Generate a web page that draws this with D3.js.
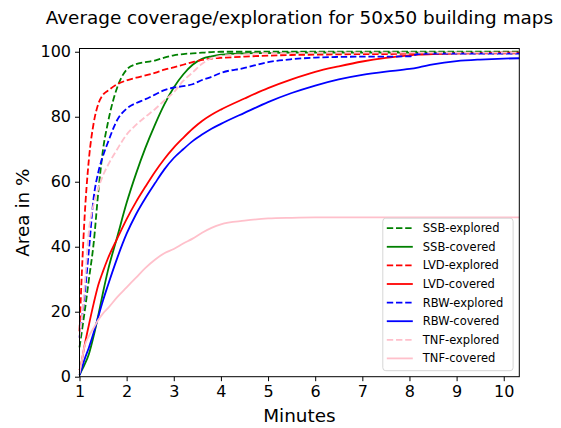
<!DOCTYPE html>
<html>
<head>
<meta charset="utf-8">
<script src="https://cdn.jsdelivr.net/npm/d3@7"></script>
<style>
  body { margin: 0; background: #fff; }
  text { font-family: "DejaVu Sans", sans-serif; fill: #000; }
</style>
</head>
<body>
<div class="canva"></div>
<script>
// minutes sampled along the x axis
const minutes = [1, 1.05, 1.1, 1.2, 1.3, 1.4, 1.5, 1.6, 1.8, 2, 2.2, 2.4, 2.6, 2.8, 3, 3.2, 3.4, 3.6, 3.8, 4,
                 4.5, 5, 5.5, 6, 6.5, 7, 7.5, 8, 8.2, 8.5, 9, 9.5, 10, 10.33];

// area in % for each run
const ssbExplored = [9, 14, 19, 30, 41, 57, 70, 78, 89, 94.5, 96.2, 96.8, 97.3, 98.2, 98.9, 99.3, 99.5, 99.7, 99.9, 100,
                     100, 100, 100, 100, 100, 100, 100, 100, 100, 100, 100, 100, 100, 100];
const ssbCovered = [0.5, 2, 3.5, 7, 12.5, 19, 26, 32.5, 43, 53.5, 62.5, 70.5, 77.5, 83.8, 89, 93, 96, 97.8, 98.6, 99.1,
                    99.5, 99.6, 99.7, 99.7, 99.7, 99.7, 99.7, 99.7, 99.7, 99.7, 99.7, 99.7, 99.7, 99.7];
const lvdExplored = [14, 32, 47, 67, 78, 84, 86.8, 88, 90, 91.2, 92, 92.7, 93.5, 94.5, 95.2, 96, 96.8, 97.5, 97.9, 98.1,
                     98.5, 98.8, 99, 99.1, 99.2, 99.3, 99.3, 99.4, 99.4, 99.4, 99.5, 99.5, 99.5, 99.5];
const lvdCovered = [2, 5, 9, 16, 22.5, 28.3, 32.5, 36.3, 42.5, 48.5, 53.8, 58.5, 63, 67, 70.5, 73.5, 76.3, 78.7, 80.6, 82.2,
                    85.6, 88.8, 91.5, 93.8, 95.5, 97, 98.1, 98.9, 99.1, 99.3, 99.5, 99.6, 99.7, 99.7];
const rbwExplored = [12, 18, 24, 39, 55, 63, 68, 72, 79, 82.5, 84.2, 85.4, 86.8, 88.2, 89, 89.4, 90, 91.3, 92.3, 93.5,
                     95, 96.8, 97.7, 98.2, 98.4, 98.5, 98.5, 98.6, 99.3, 99.4, 99.4, 99.4, 99.4, 99.4];
const rbwCovered = [0.5, 2.5, 5, 9, 13.5, 18.5, 23.5, 28, 36.5, 44, 50, 55, 59.5, 63.8, 67.3, 70, 72.5, 74.5, 76.3, 77.8,
                    81.2, 84.5, 87.3, 89.6, 91.5, 92.9, 93.9, 94.7, 95.2, 96.1, 97.1, 97.6, 97.9, 98];
const tnfExplored = [12, 18, 26, 45, 53, 58, 62, 65, 70, 74.5, 77.5, 80, 82.3, 85, 87.5, 91, 93.6, 96.3, 98, 98.7,
                     99.2, 99.6, 99.6, 99.7, 99.7, 99.7, 99.7, 99.7, 99.7, 99.7, 99.7, 99.7, 99.7, 99.7];
const tnfCovered = [1, 5, 9, 12.5, 15, 17.5, 19.5, 21, 24.5, 27.5, 30.5, 33.5, 36, 38, 39.3, 41, 42.5, 44.3, 45.8, 46.9,
                    48, 48.7, 48.9, 49, 49, 49, 49, 49, 49, 49, 49, 49, 49, 49];

const seriesNames = ["SSB-explored", "SSB-covered", "LVD-explored", "LVD-covered",
                     "RBW-explored", "RBW-covered", "TNF-explored", "TNF-covered"];
const seriesValues = [ssbExplored, ssbCovered, lvdExplored, lvdCovered,
                      rbwExplored, rbwCovered, tnfExplored, tnfCovered];
const seriesColors = ["green", "green", "red", "red", "blue", "blue", "pink", "pink"];

const xTicks = [1, 2, 3, 4, 5, 6, 7, 8, 9, 10];
const yTicks = [0, 20, 40, 60, 80, 100];

const width = 561, height = 428;
const margin = {top: 48.5, right: 41.7, bottom: 51.3, left: 79.5};
const graphWidth = width - margin.left - margin.right;
const graphHeight = height - margin.top - margin.bottom;

const svg = d3.select(".canva").append("svg")
              .attr("width", width)
              .attr("height", height);

const x = d3.scaleLinear().domain([1, 10.33]).range([0, graphWidth]);
const y = d3.scaleLinear().domain([0, 101]).range([graphHeight, 0]);

const graph = svg.append("g")
                 .attr("transform", `translate(${margin.left}, ${margin.top})`);

// lines
const line = d3.line()
               .x((d, i) => x(minutes[i]))
               .y(d => y(d))
               .curve(d3.curveMonotoneX);

seriesValues.forEach((vals, i) => {
    graph.append("path")
         .datum(vals)
         .attr("fill", "none")
         .attr("stroke", seriesColors[i])
         .attr("stroke-width", 1.8)
         .attr("stroke-dasharray", i % 2 === 0 ? "6.4,2.8" : null)
         .attr("d", line);
});

// axes
const xAxis = d3.axisBottom(x).tickValues(xTicks).tickSize(4.5).tickPadding(4);
const yAxis = d3.axisLeft(y).tickValues(yTicks).tickSize(4.5).tickPadding(4);

const gx = graph.append("g").attr("transform", `translate(0, ${graphHeight})`).call(xAxis);
const gy = graph.append("g").call(yAxis);
[gx, gy].forEach(g => {
    g.selectAll("text").style("font-size", "16px").style("font-family", "DejaVu Sans");
    g.selectAll("line").attr("stroke", "#000").attr("stroke-width", 1);
    g.select(".domain").remove();
});

// frame
graph.append("rect")
     .attr("width", graphWidth)
     .attr("height", graphHeight)
     .attr("fill", "none")
     .attr("stroke", "#000")
     .attr("stroke-width", 1);

// legend
const legend = graph.append("g")
                    .attr("transform", `translate(${graphWidth - 136.5}, ${graphHeight - 158.5})`);
legend.append("rect")
      .attr("width", 130.3)
      .attr("height", 152.5)
      .attr("rx", 3)
      .attr("fill", "#fff")
      .attr("fill-opacity", 0.8)
      .attr("stroke", "#d6d6d6");

seriesNames.forEach((name, i) => {
    const row = legend.append("g").attr("transform", `translate(0, ${10 + i * 18.6})`);
    row.append("line")
       .attr("x1", 4).attr("x2", 30)
       .attr("stroke", seriesColors[i])
       .attr("stroke-width", 1.8)
       .attr("stroke-dasharray", i % 2 === 0 ? "6.4,2.8" : null);
    row.append("text")
       .attr("x", 40)
       .attr("dy", "0.35em")
       .style("font-size", "11.5px")
       .text(name);
});

// labels
svg.append("text")
   .attr("x", margin.left + graphWidth / 2)
   .attr("y", 24)
   .attr("text-anchor", "middle")
   .style("font-size", "18.4px")
   .text("Average coverage/exploration for 50x50 building maps");

svg.append("text")
   .attr("x", margin.left + graphWidth / 2)
   .attr("y", 422)
   .attr("text-anchor", "middle")
   .style("font-size", "18.4px")
   .text("Minutes");

svg.append("text")
   .attr("transform", `translate(29, ${margin.top + graphHeight / 2}) rotate(-90)`)
   .attr("text-anchor", "middle")
   .style("font-size", "18.4px")
   .text("Area in %");
</script>
</body>
</html>
